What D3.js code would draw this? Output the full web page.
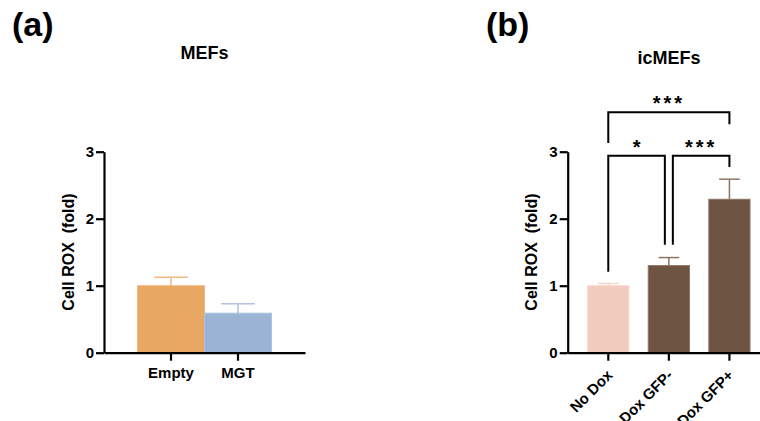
<!DOCTYPE html>
<html>
<head>
<meta charset="utf-8">
<script src="https://cdn.jsdelivr.net/npm/d3@7"></script>
<style>
  body { margin: 0; background: #fff; }
  text { font-family: Arial, "Liberation Sans", sans-serif; font-weight: bold; fill: #000; }
</style>
</head>
<body>
<svg id="drawing_region"></svg>
<script>
// panel (a)
const catsA = ["Empty", "MGT"];
const meanA = [1.0, 0.59];
const errA  = [0.125, 0.14];
const colorA = ["#E8A762", "#9BB3D4"];
const errColorA = ["#F0BA80", "#AFC3DD"];

// panel (b)
const catsB = ["No Dox", "Dox GFP-", "Dox GFP+"];
const meanB = [1.0, 1.30, 2.29];
const errB  = [0.035, 0.12, 0.30];
const colorB = ["#F2CDBE", "#6E5442", "#6E5442"];
const errColorB = ["#F5D8CC", "#8E7361", "#8E7361"];

const yTicks = [0, 1, 2, 3];
const yLabel = "Cell ROX  (fold)";

// significance comparisons in panel (b): [from, to, label]
const sigB = [["No Dox", "Dox GFP-", "*"], ["Dox GFP-", "Dox GFP+", "***"], ["No Dox", "Dox GFP+", "***"]];

const svg = d3.select("#drawing_region")
    .attr("width", 760)
    .attr("height", 421);

class BarChart {
    constructor( config, data ) {
        this.config = config;
        this.data = data;
        this.init();
    }

    init() {
        let self = this;
        const c = self.config;

        self.yscale = d3.scaleLinear()
            .domain([0, 3])
            .range([352.7, 151.7]);

        self.xscale = d3.scaleBand()
            .domain(self.data.map(d => d.cat))
            .range([c.x0, c.x1])
            .paddingInner(c.padIn)
            .paddingOuter(c.padOut);

        self.g = svg.append("g");

        // panel letter
        self.g.append("text")
            .attr("x", c.letterX)
            .attr("y", 36)
            .style("font-size", "34px")
            .text(c.letter);

        // title
        self.g.append("text")
            .attr("text-anchor", "middle")
            .attr("x", c.titleX)
            .attr("y", c.titleY)
            .style("font-size", "18px")
            .text(c.title);

        // y label
        self.g.append("text")
            .attr("text-anchor", "middle")
            .attr("transform", `translate(${c.x0 - 30.5}, 252) rotate(-90)`)
            .style("font-size", "16px")
            .style("white-space", "pre")
            .attr("xml:space", "preserve")
            .text(yLabel);
    }

    render() {
        let self = this;
        const c = self.config;
        const x = self.xscale, y = self.yscale;
        const bw = x.bandwidth();

        // bars
        self.g.selectAll("rect.bar")
            .data(self.data)
            .join("rect")
            .attr("class", "bar")
            .attr("x", d => x(d.cat))
            .attr("y", d => y(d.mean))
            .attr("width", bw)
            .attr("height", d => y(0) - y(d.mean))
            .attr("fill", d => d.color)
            .attr("stroke", d => d.err_color)
            .attr("stroke-width", 1);

        // error bars (upper only)
        const eb = self.g.selectAll("g.err")
            .data(self.data)
            .join("g")
            .attr("class", "err")
            .attr("stroke", d => d.err_color)
            .attr("stroke-width", 1.5);
        eb.append("line")
            .attr("x1", d => x(d.cat) + bw / 2)
            .attr("x2", d => x(d.cat) + bw / 2)
            .attr("y1", d => y(d.mean))
            .attr("y2", d => y(d.mean + d.err));
        eb.append("line")
            .attr("x1", d => x(d.cat) + bw / 4)
            .attr("x2", d => x(d.cat) + bw * 3 / 4)
            .attr("y1", d => y(d.mean + d.err))
            .attr("y2", d => y(d.mean + d.err));

        // axes
        const yaxis = d3.axisLeft(y).tickValues(yTicks).tickFormat(d3.format("d"))
            .tickSize(8).tickSizeOuter(0).tickPadding(2);
        const ya = self.g.append("g")
            .attr("transform", `translate(${c.x0}, 0)`)
            .call(yaxis);
        ya.selectAll("text").style("font-size", "15px");

        const xaxis = d3.axisBottom(x).tickSize(8).tickSizeOuter(0).tickPadding(7);
        const xa = self.g.append("g")
            .attr("transform", `translate(0, ${y(0)})`)
            .call(xaxis);
        if (c.rotate) {
            xa.selectAll("text")
                .style("font-size", "15px")
                .attr("text-anchor", "end")
                .attr("dy", null)
                .attr("y", 0)
                .attr("transform", "translate(5, 23.5) rotate(-45)");
        } else {
            xa.selectAll("text").style("font-size", "15px");
        }

        [ya, xa].forEach(a => {
            a.selectAll("path.domain").attr("stroke", "#000").attr("stroke-width", 2.2);
            a.selectAll(".tick line").attr("stroke", "#000").attr("stroke-width", 2.2);
            a.selectAll("text").style("font-family", "Arial, 'Liberation Sans', sans-serif").attr("fill", "#000");
        });
    }

    brackets( comps ) {
        let self = this;
        const x = self.xscale, y = self.yscale;
        const mid = d => x(d) + x.bandwidth() / 2;
        // vertical levels (in y units) of the two bracket rows
        const rows = [2.94, 3.59];
        const legs = [
            [1.21, 1.61],
            [1.61, 2.77],
            [3.13, 3.41]
        ];
        const gap = 4;
        comps.forEach((cmp, i) => {
            const row = i < 2 ? rows[0] : rows[1];
            let xa = mid(cmp[0]), xb = mid(cmp[1]);
            if (i === 0) xb -= gap;
            if (i === 1) xa += gap;
            const path = d3.path();
            path.moveTo(xa, y(legs[i][0]));
            path.lineTo(xa, y(row));
            path.lineTo(xb, y(row));
            path.lineTo(xb, y(legs[i][1]));
            self.g.append("path")
                .attr("d", path.toString())
                .attr("fill", "none")
                .attr("stroke", "#000")
                .attr("stroke-width", 2);
            self.g.append("text")
                .attr("text-anchor", "middle")
                .attr("x", (xa + xb) / 2)
                .attr("y", y(row) - 2)
                .style("font-size", "20px")
                .style("letter-spacing", cmp[2].length > 1 ? "3px" : "0px")
                .text(cmp[2]);
        });
    }
}

const dataA = catsA.map((c, i) => ({cat: c, mean: meanA[i], err: errA[i], color: colorA[i], err_color: errColorA[i]}));
const dataB = catsB.map((c, i) => ({cat: c, mean: meanB[i], err: errB[i], color: colorB[i], err_color: errColorB[i]}));

const chartA = new BarChart({
    letter: "(a)", letterX: 12, title: "MEFs", titleX: 204.5, titleY: 59,
    x0: 104, x1: 305, padIn: 0, padOut: 0.5, rotate: false
}, dataA);
chartA.render();

const chartB = new BarChart({
    letter: "(b)", letterX: 486, title: "icMEFs", titleX: 669, titleY: 64,
    x0: 567.7, x1: 770, padIn: 0.32, padOut: 0.33, rotate: true
}, dataB);
chartB.render();
chartB.brackets(sigB);
</script>
</body>
</html>
